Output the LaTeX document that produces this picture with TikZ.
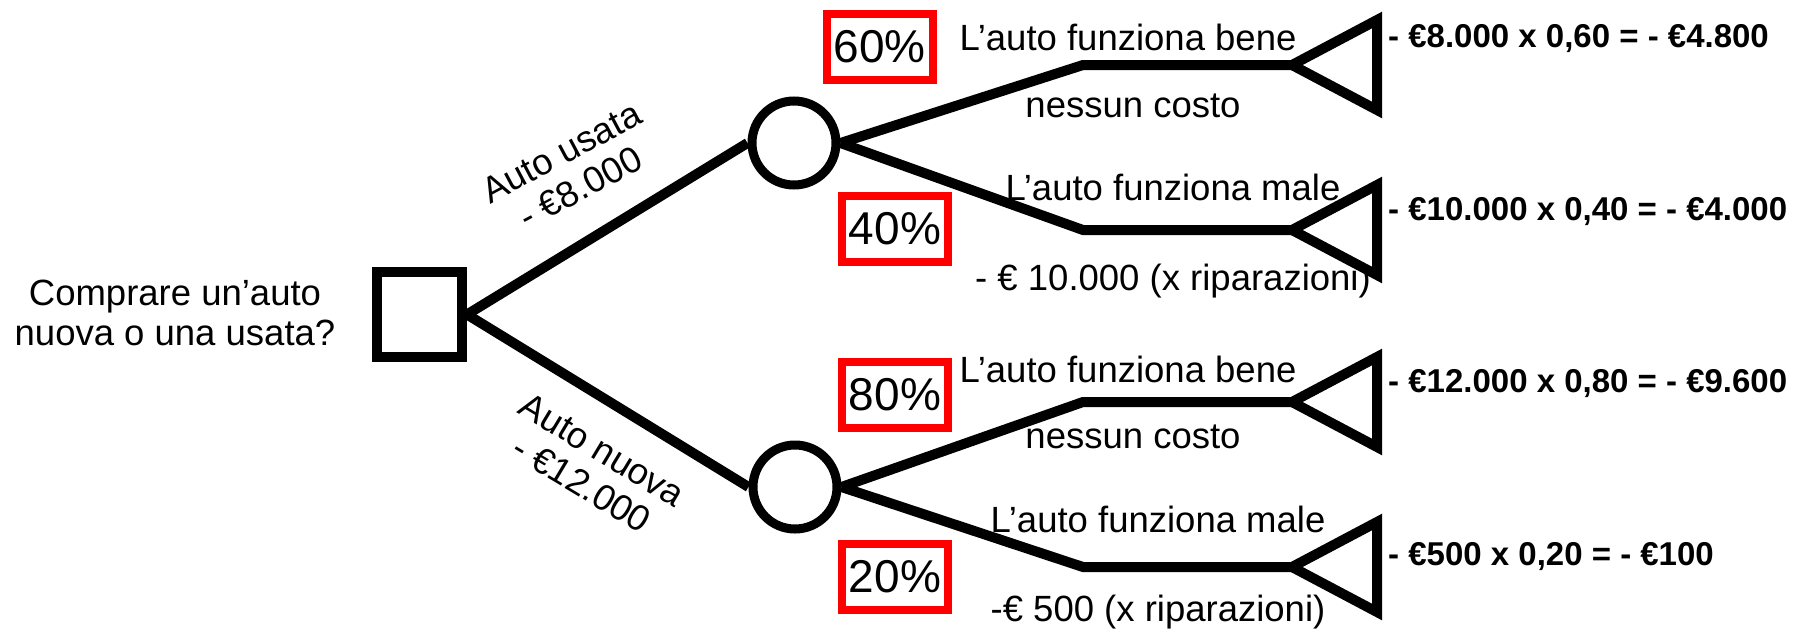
\documentclass[tikz,border=0pt]{standalone}
\usepackage{fontspec}
\setmainfont{Liberation Sans}
\begin{document}
\begin{tikzpicture}[x=1pt,y=-1pt,
  decision/.style={draw,line width=10pt,minimum size=85pt,inner sep=0pt},
  chance/.style={draw,circle,line width=9pt,minimum size=84pt,inner sep=0pt},
  branch/.style={line width=10pt,line join=miter},
  leaf/.style={line width=10pt,line join=miter},
  pct/.style={draw=red,line width=8pt,minimum width=106pt,minimum height=66pt,inner sep=0pt,font=\fontsize{46}{50}\selectfont},
  lbl/.style={inner sep=0pt,anchor=base,font=\fontsize{36.5}{40}\selectfont},
  alt/.style={inner sep=0pt,anchor=center,align=center,font=\fontsize{36.5}{40}\selectfont},
  res/.style={inner sep=0pt,anchor=base west,font=\bfseries\fontsize{33}{36}\selectfont}]
\useasboundingbox (0,0) rectangle (1800,630);

% decision and chance nodes
\node[decision] (sq) at (419.5,314.5) {};
\node[chance] (c1) at (794,143) {};
\node[chance] (c2) at (795,487) {};

\draw[branch] (sq.east) -- (c1.west);
\draw[branch] (sq.east) -- (c2.west);

% knees and leaf tips
\coordinate (k1) at (1083,65);  \coordinate (t1) at (1292,65);
\coordinate (k2) at (1083,230); \coordinate (t2) at (1292,230);
\coordinate (k3) at (1083,402); \coordinate (t3) at (1292,402);
\coordinate (k4) at (1083,567); \coordinate (t4) at (1292,567);

\draw[branch] (c1.east) -- (k1) -- (t1);
\draw[branch] (c1.east) -- (k2) -- (t2);
\draw[branch] (c2.east) -- (k3) -- (t3);
\draw[branch] (c2.east) -- (k4) -- (t4);

\foreach \t in {t1,t2,t3,t4}
  \draw[leaf] (\t) -- ++(85,-45) -- ++(0,90) -- cycle;

% question
\node[lbl] (q1) at (175,305) {Comprare un’auto};
\node[lbl] (q2) at (175,345) {nuova o una usata?};

% alternatives
\node[alt,rotate=28] (usata) at (571,170) {Auto usata\\- €8.000};
\node[alt,rotate=-31] (nuova) at (592,467) {Auto nuova\\- €12.000};

% probabilities
\node[pct] (p60) at (879.5,46.5) {60\%};
\node[pct] (p40) at (895,229) {40\%};
\node[pct] (p80) at (895,395) {80\%};
\node[pct] (p20) at (895,576.5) {20\%};

% outcome labels
\node[lbl] (o1) at (1128,50) {L’auto funziona bene};
\node[lbl] (o1b) at (1133,117) {nessun costo};
\node[lbl] (o2) at (1173,200) {L’auto funziona male};
\node[lbl] (o2b) at (1173,290) {- € 10.000 (x riparazioni)};
\node[lbl] (o3) at (1128,382) {L’auto funziona bene};
\node[lbl] (o3b) at (1133,448) {nessun costo};
\node[lbl] (o4) at (1158,532) {L’auto funziona male};
\node[lbl] (o4b) at (1158,621) {-€ 500 (x riparazioni)};

% results
\node[res] (r1) at (1388,47) {- €8.000 x 0,60 = - €4.800};
\node[res] (r2) at (1388,220) {- €10.000 x 0,40 = - €4.000};
\node[res] (r3) at (1388,392) {- €12.000 x 0,80 = - €9.600};
\node[res] (r4) at (1388,565) {- €500 x 0,20 = - €100};
\end{tikzpicture}
\end{document}
